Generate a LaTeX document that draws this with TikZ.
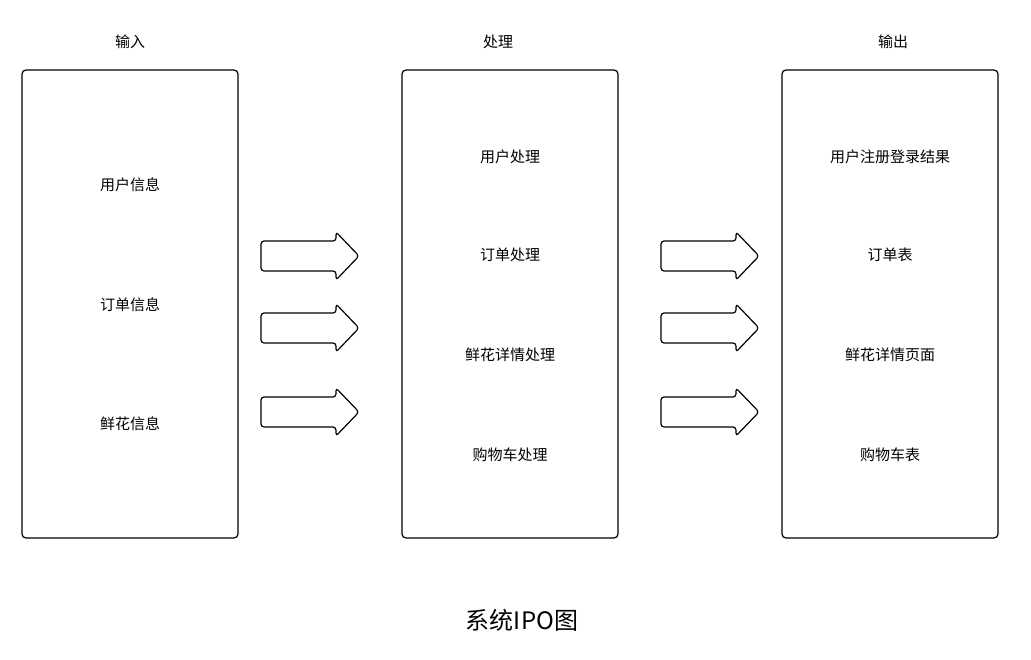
\documentclass[tikz,border=0pt]{standalone}
\usepackage{fontspec}
\setmainfont{Noto Sans CJK SC}
\tikzset{
  colbox/.style={draw,line width=1.2pt,rounded corners=4pt},
  lbl/.style={font=\fontsize{15}{17}\selectfont},
  fatarrow/.style={draw,line width=1.2pt,rounded corners=3pt}
}
\newcommand{\fatarrowat}[1]{%
  \draw[fatarrow] ($(#1)+(0,-15)$) -- ++(75,0) -- ++(0,-9) -- ++(23,24)
    -- ++(-23,24) -- ++(0,-9) -- ++(-75,0) -- cycle;}
\usetikzlibrary{calc}
\begin{document}
\begin{tikzpicture}[x=1pt,y=-1pt]
\useasboundingbox (0,0) rectangle (1031,659);
\draw[colbox] (22,70) rectangle (238,538);
\draw[colbox] (402,70) rectangle (618,538);
\draw[colbox] (782,70) rectangle (998,538);
\node[lbl] (tin) at (130,42) {输入};
\node[lbl] (tpro) at (498,42) {处理};
\node[lbl] (tout) at (893,42) {输出};
\node[lbl] (i1) at (130,185) {用户信息};
\node[lbl] (i2) at (130,305) {订单信息};
\node[lbl] (i3) at (130,424) {鲜花信息};
\node[lbl] (p1) at (510,157) {用户处理};
\node[lbl] (p2) at (510,255) {订单处理};
\node[lbl] (p3) at (510,355) {鲜花详情处理};
\node[lbl] (p4) at (510,455) {购物车处理};
\node[lbl] (o1) at (890,157) {用户注册登录结果};
\node[lbl] (o2) at (890,255) {订单表};
\node[lbl] (o3) at (890,355) {鲜花详情页面};
\node[lbl] (o4) at (890,455) {购物车表};
\foreach \y [count=\i] in {256,328,412}{
  \coordinate (la\i) at (261,\y);
  \coordinate (ra\i) at (661,\y);
  \fatarrowat{la\i}
  \fatarrowat{ra\i}
}
\node[font=\fontsize{24}{28}\selectfont] (cap) at (522,620) {系统IPO图};
\end{tikzpicture}
\end{document}
